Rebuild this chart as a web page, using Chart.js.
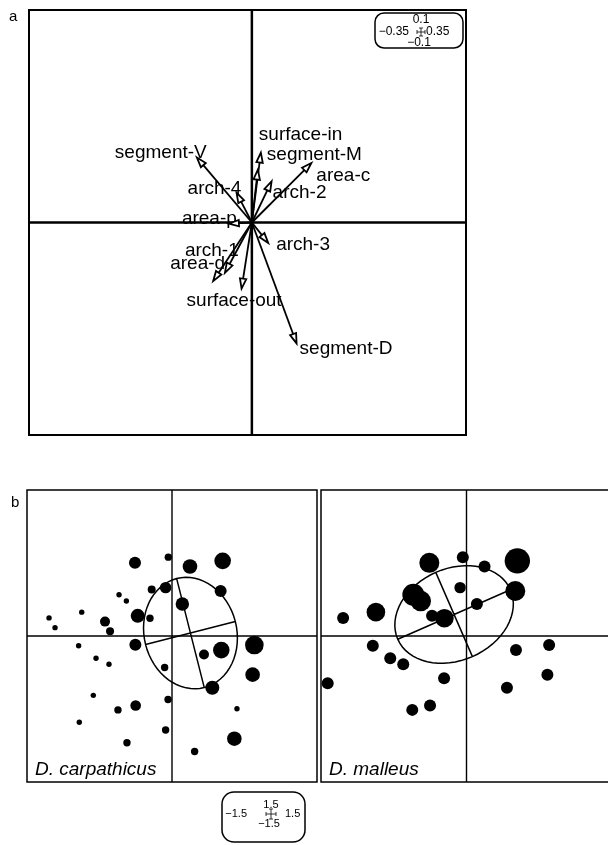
<!DOCTYPE html>
<html>
<head>
<meta charset="utf-8">
<script src="https://cdn.jsdelivr.net/npm/chart.js@4.4.1/dist/chart.umd.min.js"></script>
<style>
  html, body { margin: 0; padding: 0; background: #fff; width: 608px; height: 845px; overflow: hidden; }
  canvas { position: absolute; }
</style>
</head>
<body>
<canvas id="chartA" width="608" height="470" style="left:0;top:0"></canvas>
<canvas id="chartB" width="320" height="365" style="left:0;top:480px"></canvas>
<canvas id="chartC" width="310" height="365" style="left:310px;top:480px"></canvas>
<script>
// ---- panel a: variable arrows (tips in axis units) ----
const varNames = ['segment-V', 'surface-in', 'segment-M', 'area-c', 'arch-2', 'arch-4',
                  'area-p', 'arch-3', 'arch-1', 'area-d', 'surface-out', 'segment-D'];
const varX = [-0.0881, 0.0144, 0.0096, 0.0953, 0.0316, -0.0245, -0.0368, 0.0261, -0.0432, -0.0620, -0.0165, 0.0716];
const varY = [0.0306, 0.0329, 0.0249, 0.0280, 0.0194, 0.0140, -0.0005, -0.0096, -0.0237, -0.0276, -0.0311, -0.0569];
const limXA = [-0.357, 0.343];
const limYA = [-0.1, 0.1];
const keyA = ['0.1', '−0.35', '0.35', '−0.1'];   // top, left, right, bottom

// ---- panel b: individuals, shared coordinates, weight per species ----
const indX = [-0.383, -0.038, 0.186, 0.524, -0.210, -0.066, 0.503, -0.548, -0.472, 0.107,
              -0.934, -0.355, -0.228, -1.272, -1.210, -0.693, -0.641, -0.379, -0.966, 0.510,
              0.852, 0.331, -0.786, -0.652, -0.076, 0.834, 0.417, -0.814, -0.041, -0.376,
              -0.559, 0.672, -0.959, -0.066, 0.645, -0.466, 0.234, -0.231, -1.431];
const indY = [0.752, 0.810, 0.714, 0.772, 0.479, 0.497, 0.462, 0.424, 0.359, 0.328,
              0.245, 0.207, 0.183, 0.186, 0.086, 0.148, 0.048, -0.090, -0.100, -0.145,
              -0.093, -0.190, -0.228, -0.290, -0.324, -0.397, -0.531, -0.610, -0.652, -0.714,
              -0.759, -0.748, -0.886, -0.966, -1.055, -1.097, -1.186, -0.434, -0.486];
const wCarpathicus = [0.60, 0.37, 0.73, 0.83, 0.40, 0.57, 0.60, 0.27, 0.27, 0.67,
                      0.27, 0.70, 0.37, 0.27, 0.27, 0.50, 0.40, 0.60, 0.27, 0.83,
                      0.93, 0.50, 0.27, 0.27, 0.37, 0.73, 0.70, 0.27, 0.37, 0.53,
                      0.37, 0.27, 0.27, 0.37, 0.73, 0.37, 0.37, 0, 0];
const wMalleus = [1.00, 0.60, 0.60, 1.27, 0, 0.57, 1.00, 1.10, 1.03, 0.60,
                  0.93, 0.60, 0.93, 0.60, 0, 0, 0, 0, 0.60, 0.60,
                  0.60, 0, 0.60, 0.60, 0, 0.60, 0.60, 0, 0, 0.60,
                  0.60, 0, 0, 0, 0, 0, 0, 0.60, 0.60];
const speciesNames = ['D. carpathicus', 'D. malleus'];
// class ellipses: centre, semi-axes, angle of major axis (deg)
const ellCX = [0.191, -0.128];
const ellCY = [0.030, 0.221];
const ellA = [0.578, 0.634];
const ellB = [0.479, 0.472];
const ellAngle = [104.3, 23.6];
const limB = [-1.5, 1.5];
const keyB = ['1.5', '−1.5', '1.5', '−1.5'];

const FONT = '"Liberation Sans", Arial, Helvetica, sans-serif';
// label placement relative to arrow tip, in px
const labelNudge = {
  'segment-V': [-82, 1], 'surface-in': [-2, -13], 'segment-M': [9, -10], 'area-c': [5, 18],
  'arch-2': [1, 17], 'arch-4': [-49, 1], 'area-p': [-47, 0], 'arch-3': [8, 7],
  'arch-1': [-40, -17], 'area-d': [-43, -12], 'surface-out': [-55, 17], 'segment-D': [3, 11]
};

function drawFrameCross(chart, lwFrame, lwCross) {
  const { ctx, chartArea: a, scales: { x, y } } = chart;
  ctx.save();
  ctx.strokeStyle = '#000';
  ctx.lineWidth = lwCross;
  const x0 = x.getPixelForValue(0), y0 = y.getPixelForValue(0);
  ctx.beginPath();
  ctx.moveTo(x0, a.top); ctx.lineTo(x0, a.bottom);
  ctx.moveTo(a.left, y0); ctx.lineTo(a.right, y0);
  ctx.stroke();
  ctx.lineWidth = lwFrame;
  ctx.strokeRect(a.left, a.top, a.right - a.left, a.bottom - a.top);
  ctx.restore();
}

// scale key box: k = {cx, cy, s, up, down, lgap, rgap}
function drawKey(ctx, bx, by, bw, bh, rad, labels, fontPx, k) {
  ctx.save();
  ctx.strokeStyle = '#000';
  ctx.lineWidth = 1.5;
  ctx.beginPath();
  ctx.roundRect(bx, by, bw, bh, rad);
  ctx.stroke();
  const cx = k.cx, cy = k.cy, s = k.s;
  ctx.lineWidth = 0.8;
  ctx.beginPath();
  ctx.moveTo(cx - s, cy); ctx.lineTo(cx + s, cy);
  ctx.moveTo(cx, cy - s); ctx.lineTo(cx, cy + s);
  ctx.moveTo(cx - s, cy - 2); ctx.lineTo(cx - s, cy + 2);
  ctx.moveTo(cx + s, cy - 2); ctx.lineTo(cx + s, cy + 2);
  ctx.moveTo(cx - 2, cy - s); ctx.lineTo(cx + 2, cy - s);
  ctx.moveTo(cx - 2, cy + s); ctx.lineTo(cx + 2, cy + s);
  ctx.stroke();
  ctx.fillStyle = '#000';
  ctx.font = fontPx + 'px ' + FONT;
  ctx.textBaseline = 'middle';
  ctx.textAlign = 'center';
  ctx.fillText(labels[0], cx, cy - k.up);
  ctx.fillText(labels[3], cx - 2, cy + k.down);
  ctx.textAlign = 'right';
  ctx.fillText(labels[1], cx - k.lgap, cy);
  ctx.textAlign = 'left';
  ctx.fillText(labels[2], cx + k.rgap, cy);
  ctx.restore();
}

function drawArrow(ctx, x0, y0, x1, y1) {
  const ang = Math.atan2(y1 - y0, x1 - x0);
  const len = Math.hypot(x1 - x0, y1 - y0);
  const hl = Math.min(10, len * 0.45), hw = 3.2;
  const bx = x1 - hl * Math.cos(ang), by = y1 - hl * Math.sin(ang);
  ctx.beginPath(); ctx.moveTo(x0, y0); ctx.lineTo(bx, by); ctx.stroke();
  ctx.beginPath();
  ctx.moveTo(x1, y1);
  ctx.lineTo(bx + hw * Math.sin(ang), by - hw * Math.cos(ang));
  ctx.lineTo(bx - hw * Math.sin(ang), by + hw * Math.cos(ang));
  ctx.closePath();
  ctx.fill(); ctx.stroke();
}

const arrowPlugin = {
  id: 'arrows',
  beforeDatasetsDraw(chart) {
    const { ctx, scales: { x, y } } = chart;
    // labels sit under the lines
    ctx.save();
    ctx.fillStyle = '#000';
    ctx.font = '19px ' + FONT;
    ctx.textBaseline = 'alphabetic';
    ctx.textAlign = 'left';
    varNames.forEach((n, i) => {
      const d = labelNudge[n];
      ctx.fillText(n, x.getPixelForValue(varX[i]) + d[0], y.getPixelForValue(varY[i]) + d[1]);
    });
    ctx.restore();
    drawFrameCross(chart, 2, 2.5);
  },
  afterDatasetsDraw(chart) {
    const { ctx, scales: { x, y } } = chart;
    const x0 = x.getPixelForValue(0), y0 = y.getPixelForValue(0);
    ctx.save();
    ctx.strokeStyle = '#000';
    ctx.fillStyle = '#fff';
    ctx.lineWidth = 1.8;
    ctx.lineJoin = 'miter';
    varX.forEach((vx, i) => drawArrow(ctx, x0, y0, x.getPixelForValue(vx), y.getPixelForValue(varY[i])));
    ctx.restore();
  },
  afterDraw(chart) {
    const ctx = chart.ctx;
    ctx.save();
    ctx.fillStyle = '#000';
    ctx.font = '15px ' + FONT;
    ctx.textBaseline = 'alphabetic';
    ctx.fillText('a', 9, 21);
    ctx.restore();
    drawKey(ctx, 375, 13, 88, 35, 9, keyA, 12, { cx: 421, cy: 32, s: 4, up: 12.5, down: 10.5, lgap: 12, rgap: 5 });
  }
};

new Chart(document.getElementById('chartA'), {
  type: 'scatter',
  data: { datasets: [{ data: varX.map((x, i) => ({ x, y: varY[i] })), pointRadius: 0 }] },
  options: {
    responsive: false, animation: false, events: [],
    layout: { autoPadding: false, padding: { left: 29, right: 142, top: 10, bottom: 35 } },
    scales: {
      x: { type: 'linear', display: false, min: limXA[0], max: limXA[1] },
      y: { type: 'linear', display: false, min: limYA[0], max: limYA[1] }
    },
    plugins: { legend: { display: false }, tooltip: { enabled: false } }
  },
  plugins: [arrowPlugin]
});

const classPlugin = {
  id: 'classPanel',
  beforeDatasetsDraw(chart) { drawFrameCross(chart, 1.5, 1.4); },
  afterDatasetsDraw(chart, args, opts) {
    const { ctx, chartArea: a, scales: { x, y } } = chart;
    const k = opts.index;
    const th = ellAngle[k] * Math.PI / 180, c = Math.cos(th), s = Math.sin(th);
    const px = (u, v) => [x.getPixelForValue(ellCX[k] + u * c - v * s), y.getPixelForValue(ellCY[k] + u * s + v * c)];
    ctx.save();
    ctx.strokeStyle = '#000';
    ctx.lineWidth = 1.5;
    ctx.beginPath();
    for (let t = 0; t <= 64; t++) {
      const ang = t / 64 * Math.PI * 2;
      const p = px(ellA[k] * Math.cos(ang), ellB[k] * Math.sin(ang));
      if (t === 0) ctx.moveTo(p[0], p[1]); else ctx.lineTo(p[0], p[1]);
    }
    ctx.closePath();
    let p = px(-ellA[k], 0), q = px(ellA[k], 0);
    ctx.moveTo(p[0], p[1]); ctx.lineTo(q[0], q[1]);
    p = px(0, -ellB[k]); q = px(0, ellB[k]);
    ctx.moveTo(p[0], p[1]); ctx.lineTo(q[0], q[1]);
    ctx.stroke();
    ctx.fillStyle = '#000';
    ctx.font = 'italic 19px ' + FONT;
    ctx.textBaseline = 'alphabetic';
    ctx.fillText(speciesNames[k], a.left + 8, a.bottom - 7);
    ctx.restore();
    if (k === 0) {
      ctx.save();
      ctx.font = '15px ' + FONT;
      ctx.fillStyle = '#000';
      ctx.fillText('b', 11, 27);
      ctx.restore();
      drawKey(ctx, 222, 312, 83, 50, 12, keyB, 11, { cx: 271, cy: 334, s: 5, up: 9, down: 10, lgap: 24, rgap: 14 });
    }
  }
};

function makePanel(id, weights, k, pad) {
  const pts = indX.map((x, i) => ({ x, y: indY[i], r: weights[i] * 10 })).filter(p => p.r > 0);
  return new Chart(document.getElementById(id), {
    type: 'bubble',
    data: { datasets: [{ data: pts, backgroundColor: '#000', borderWidth: 0 }] },
    options: {
      responsive: false, animation: false, events: [],
      layout: { autoPadding: false, padding: pad },
      scales: {
        x: { type: 'linear', display: false, min: limB[0], max: limB[1] },
        y: { type: 'linear', display: false, min: limB[0], max: limB[1] }
      },
      plugins: { legend: { display: false }, tooltip: { enabled: false }, classPanel: { index: k } }
    },
    plugins: [classPlugin]
  });
}

makePanel('chartB', wCarpathicus, 0, { left: 27, right: 3, top: 10, bottom: 63 });
makePanel('chartC', wMalleus, 1, { left: 11, right: 8, top: 10, bottom: 63 });
</script>
</body>
</html>
